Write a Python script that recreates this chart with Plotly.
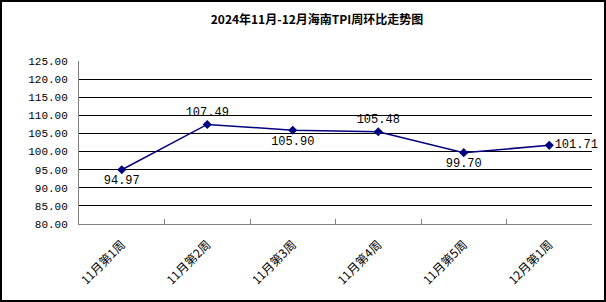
import plotly.graph_objects as go

categories = ["11月第1周", "11月第2周", "11月第3周", "11月第4周", "11月第5周", "12月第1周"]
values = [94.97, 107.49, 105.90, 105.48, 99.70, 101.71]
label_positions = ["bottom center", "top center", "bottom center", "top center", "bottom center", "middle right"]
title = "2024年11月-12月海南TPI周环比走势图"

num_font = "Liberation Mono, Noto Sans CJK SC, monospace"

fig = go.Figure()
fig.add_trace(go.Scatter(
    x=categories, y=values, mode="lines+markers+text",
    line=dict(color="#000080", width=1.5),
    marker=dict(symbol="diamond", size=7, color="#000080"),
    text=[f"{v:.2f}" for v in values],
    textposition=label_positions,
    textfont=dict(family=num_font, size=12, color="#000000"),
    cliponaxis=False,
    showlegend=False,
))

L, R, T, B = 79, 14, 61, 78
W, H = 606, 302
pw, ph = W - L - R, H - T - B

fig.update_layout(
    width=W, height=H,
    margin=dict(l=L, r=R, t=T, b=B, pad=0),
    paper_bgcolor="white", plot_bgcolor="white",
    title=dict(text=f"<b>{title}</b>", x=317 / W, xanchor="center", y=1 - 20 / H, yanchor="middle",
               font=dict(family="Noto Sans CJK SC", size=12, color="#000000")),
    xaxis=dict(
        type="category", tickangle=-45, showgrid=False,
        showline=True, linecolor="#808080", linewidth=1,
        ticks="inside", ticklen=5, tickcolor="#808080", tickson="boundaries",
        ticklabelstandoff=8,
        tickfont=dict(family="Noto Sans CJK SC", size=12, color="#000000"),
        range=[-0.5, 5.5], fixedrange=True,
    ),
    yaxis=dict(
        range=[80, 125], dtick=5, tickformat=".2f",
        showgrid=True, gridcolor="#000000", gridwidth=1,
        showline=True, linecolor="#808080", linewidth=1,
        ticks="", ticklabelstandoff=8,
        tickfont=dict(family=num_font, size=11, color="#000000"),
        zeroline=False,
    ),
    shapes=[dict(
        type="rect", xref="paper", yref="paper",
        x0=(1 - L) / pw, x1=(W - 1 - L) / pw,
        y0=(H - B - (H - 1)) / ph, y1=(H - B - 1) / ph,
        line=dict(color="#000000", width=2), fillcolor="rgba(0,0,0,0)",
    )],
)

fig.write_html("out.html")
